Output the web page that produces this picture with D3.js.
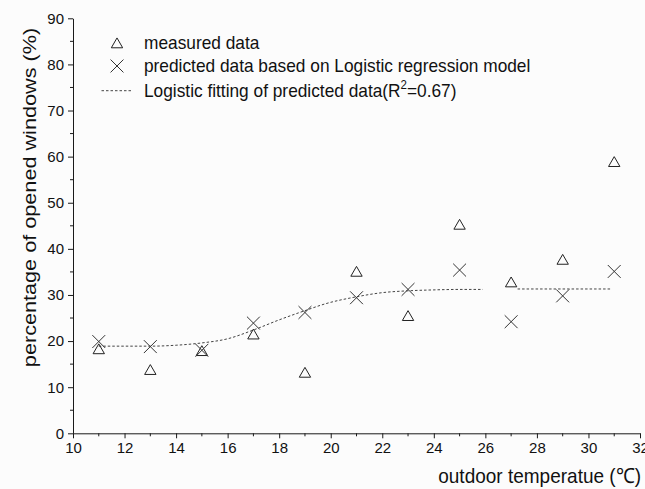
<!DOCTYPE html>
<html>
<head>
<meta charset="utf-8">
<script src="https://cdn.jsdelivr.net/npm/d3@7"></script>
<style>
  html, body { margin: 0; padding: 0; background: #fcfcfc; }
  svg { display: block; }
  text { font-family: "Liberation Sans", Arial, sans-serif; fill: #111; }
</style>
</head>
<body>
<svg id="chart" width="645" height="489"></svg>
<script>
// Outdoor temperature (°C) of each observation group
const temperatures = [11, 13, 15, 17, 19, 21, 23, 25, 27, 29, 31];
// Measured share of opened windows (%)
const measured = [18.3, 13.8, 17.9, 21.5, 13.2, 35.1, 25.5, 45.3, 32.8, 37.7, 58.9];
// Share predicted by the logistic regression model (%)
const predicted = [19.9, 18.8, 18.0, 23.9, 26.2, 29.4, 31.2, 35.4, 24.2, 29.8, 35.1];

// Logistic fit of the predicted data, sampled along the curve (two drawn pieces)
const fitTempsA = [11, 12, 13, 14, 15, 16, 17, 18, 19, 19.8, 21, 22, 23, 24, 25, 25.9];
const fitValuesA = [18.9, 18.9, 18.9, 19.1, 19.6, 20.5, 22.4, 24.6, 26.6, 28.1, 29.6, 30.5, 30.9, 31.1, 31.2, 31.2];
const fitTempsB = [27.25, 29, 30.9];
const fitValuesB = [31.3, 31.3, 31.3];

// Axis ticks
const xTicks = [10, 12, 14, 16, 18, 20, 22, 24, 26, 28, 30, 32];
const xMinorTicks = [11, 13, 15, 17, 19, 21, 23, 25, 27, 29, 31];
const yTicks = [0, 10, 20, 30, 40, 50, 60, 70, 80, 90];
const yMinorTicks = [5, 15, 25, 35, 45, 55, 65, 75, 85];

const legendLabels = [
  "measured data",
  "predicted data based on Logistic regression model",
  "Logistic fitting of predicted data(R"
];

const svg = d3.select("#chart");
const margin = { top: 18.3, right: 5, bottom: 55.7, left: 73 };
const W = 645, H = 489;

const x = d3.scaleLinear().domain([10, 32]).range([margin.left, W - margin.right]);
const y = d3.scaleLinear().domain([0, 90]).range([H - margin.bottom, margin.top]);

const ink = "#1a1a1a";
const font = '"Liberation Sans", Arial, sans-serif';
// text glyphs are drawn slightly taller than wide
const stretch = 1.1;

// Bottom axis
const gx = svg.append("g").attr("transform", `translate(0,${y(0)})`);
gx.call(d3.axisBottom(x).tickValues(xTicks).tickSize(5).tickSizeOuter(0).tickPadding(4))
  .call(g => g.select(".domain").attr("stroke", ink))
  .call(g => g.selectAll(".tick line").attr("stroke", ink))
  .call(g => g.selectAll(".tick text").attr("font-size", 15)
        .style("font-family", font).attr("fill", "#111"));
gx.selectAll(".minor").data(xMinorTicks).join("line")
  .attr("class", "minor")
  .attr("x1", d => x(d)).attr("x2", d => x(d))
  .attr("y1", 0).attr("y2", 3)
  .attr("stroke", ink);

// Left axis
const gy = svg.append("g").attr("transform", `translate(${x(10)},0)`);
gy.call(d3.axisLeft(y).tickValues(yTicks).tickSize(5).tickSizeOuter(0).tickPadding(4))
  .call(g => g.select(".domain").attr("stroke", ink))
  .call(g => g.selectAll(".tick line").attr("stroke", ink))
  .call(g => g.selectAll(".tick text").attr("font-size", 15)
        .style("font-family", font).attr("fill", "#111"));
gy.selectAll(".minor").data(yMinorTicks).join("line")
  .attr("class", "minor")
  .attr("x1", 0).attr("x2", -3)
  .attr("y1", d => y(d)).attr("y2", d => y(d))
  .attr("stroke", ink);

// Axis titles
svg.append("text")
  .attr("transform", `translate(641,483) scale(1,${stretch})`)
  .attr("text-anchor", "end")
  .attr("font-size", 19)
  .text("outdoor temperatue (\u2103)");

svg.append("text")
  .attr("transform", "translate(36,197.5) rotate(-90) scale(1.14,1)")
  .attr("text-anchor", "middle")
  .attr("font-size", 19)
  .text("percentage of opened windows (%)");

// Fitted logistic curve
const fitLine = d3.line()
  .x(d => x(d[0]))
  .y(d => y(d[1]))
  .curve(d3.curveMonotoneX);

[[fitTempsA, fitValuesA], [fitTempsB, fitValuesB]].forEach(([ts, vs]) => {
  svg.append("path")
    .datum(ts.map((t, i) => [t, vs[i]]))
    .attr("d", fitLine)
    .attr("fill", "none")
    .attr("stroke", "#444")
    .attr("stroke-width", 1)
    .attr("stroke-dasharray", "2.5,2");
});

const triangle = d3.symbol().type(d3.symbolTriangle).size(56);
const cross = d3.symbol().type(d3.symbolX).size(110);

// Measured points
svg.append("g").selectAll("path")
  .data(temperatures.map((t, i) => [t, measured[i]]))
  .join("path")
  .attr("transform", d => `translate(${x(d[0])},${y(d[1]) + 1.5})`)
  .attr("d", triangle)
  .attr("fill", "none")
  .attr("stroke", "#222")
  .attr("stroke-width", 1);

// Predicted points
svg.append("g").selectAll("path")
  .data(temperatures.map((t, i) => [t, predicted[i]]))
  .join("path")
  .attr("transform", d => `translate(${x(d[0])},${y(d[1])})`)
  .attr("d", cross)
  .attr("fill", "none")
  .attr("stroke", "#333")
  .attr("stroke-width", 1);

// Legend
const lg = svg.append("g");
lg.append("path").attr("transform", "translate(117,44.5)").attr("d", triangle)
  .attr("fill", "none").attr("stroke", "#222");
lg.append("path").attr("transform", "translate(117,66)").attr("d", cross)
  .attr("fill", "none").attr("stroke", "#333");
lg.append("line").attr("x1", 101.5).attr("x2", 132).attr("y1", 90.7).attr("y2", 90.7)
  .attr("stroke", "#444").attr("stroke-dasharray", "2.5,2");

const lx = 144, lfs = 17.3;
const legendText = (yPos) => lg.append("text")
  .attr("transform", `translate(${lx},${yPos}) scale(1,${stretch})`)
  .attr("font-size", lfs);
legendText(49).text(legendLabels[0]);
legendText(72).text(legendLabels[1]);
const t3 = legendText(97);
t3.append("tspan").text(legendLabels[2]);
t3.append("tspan").attr("dy", -7).attr("font-size", 11.5).text("2");
t3.append("tspan").attr("dy", 7).text("=0.67)");
</script>
</body>
</html>
